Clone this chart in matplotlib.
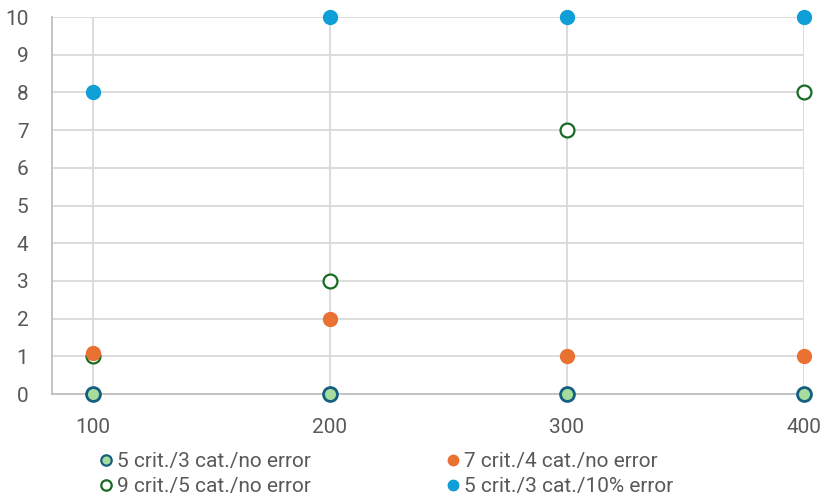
import matplotlib.pyplot as plt
from matplotlib.lines import Line2D

plt.rcParams['font.family'] = ['Roboto', 'DejaVu Sans']

x = [100, 200, 300, 400]
s1 = [0, 0, 0, 0]        # 5 crit./3 cat./no error
s2 = [1.1, 2, 1, 1]      # 7 crit./4 cat./no error
s3 = [1, 3, 7, 8]        # 9 crit./5 cat./no error
s4 = [8, 10, 10, 10]     # 5 crit./3 cat./10% error
labels = ['5 crit./3 cat./no error', '7 crit./4 cat./no error',
          '9 crit./5 cat./no error', '5 crit./3 cat./10% error']

fig = plt.figure(figsize=(8.24, 4.95), dpi=100)
ax = fig.add_axes([0.0631, 0.204, 0.9126, 0.7616])

ms = 10
ax.plot(x, s1, 'o', ms=ms, mfc='#a6dc9c', mec='#156082', mew=2, clip_on=False, zorder=3)
ax.plot(x, s3, 'o', ms=ms, mfc='white', mec='#196b24', mew=1.6, clip_on=False, zorder=3)
ax.plot(x, s2, 'o', ms=ms, mfc='#e97132', mec='#e97132', clip_on=False, zorder=3)
ax.plot(x, s4, 'o', ms=ms, mfc='#0f9ed5', mec='#0f9ed5', clip_on=False, zorder=3)

ax.set_xlim(82.7, 400)
ax.set_ylim(0, 10)
ax.set_xticks(x)
ax.set_yticks(range(11))
ax.grid(True, color='#d9d9d9', lw=1.3)
ax.set_axisbelow(True)
for side in ['top', 'right']:
    ax.spines[side].set_visible(False)
for side in ['left', 'bottom']:
    ax.spines[side].set_color('#bfbfbf')
    ax.spines[side].set_linewidth(1.3)
ax.tick_params(length=0, labelsize=15, labelcolor='#595959')
ax.tick_params(axis='x', pad=17)
ax.tick_params(axis='y', pad=17)

lm = 7.5
handles = [
    Line2D([], [], ls='', marker='o', ms=lm, mfc='#a6dc9c', mec='#156082', mew=1.6),
    Line2D([], [], ls='', marker='o', ms=lm, mfc='white', mec='#196b24', mew=1.6),
    Line2D([], [], ls='', marker='o', ms=lm, mfc='#e97132', mec='#e97132'),
    Line2D([], [], ls='', marker='o', ms=lm, mfc='#0f9ed5', mec='#0f9ed5'),
]
leg = fig.legend(handles, [labels[0], labels[2], labels[1], labels[3]],
                 ncol=2, loc='lower left', bbox_to_anchor=(0.098, -0.04),
                 frameon=False, fontsize=15, handlelength=0.6, handletextpad=0.25,
                 columnspacing=6.5, labelspacing=0.3, labelcolor='#595959')

fig.savefig('out.png', dpi=100)
